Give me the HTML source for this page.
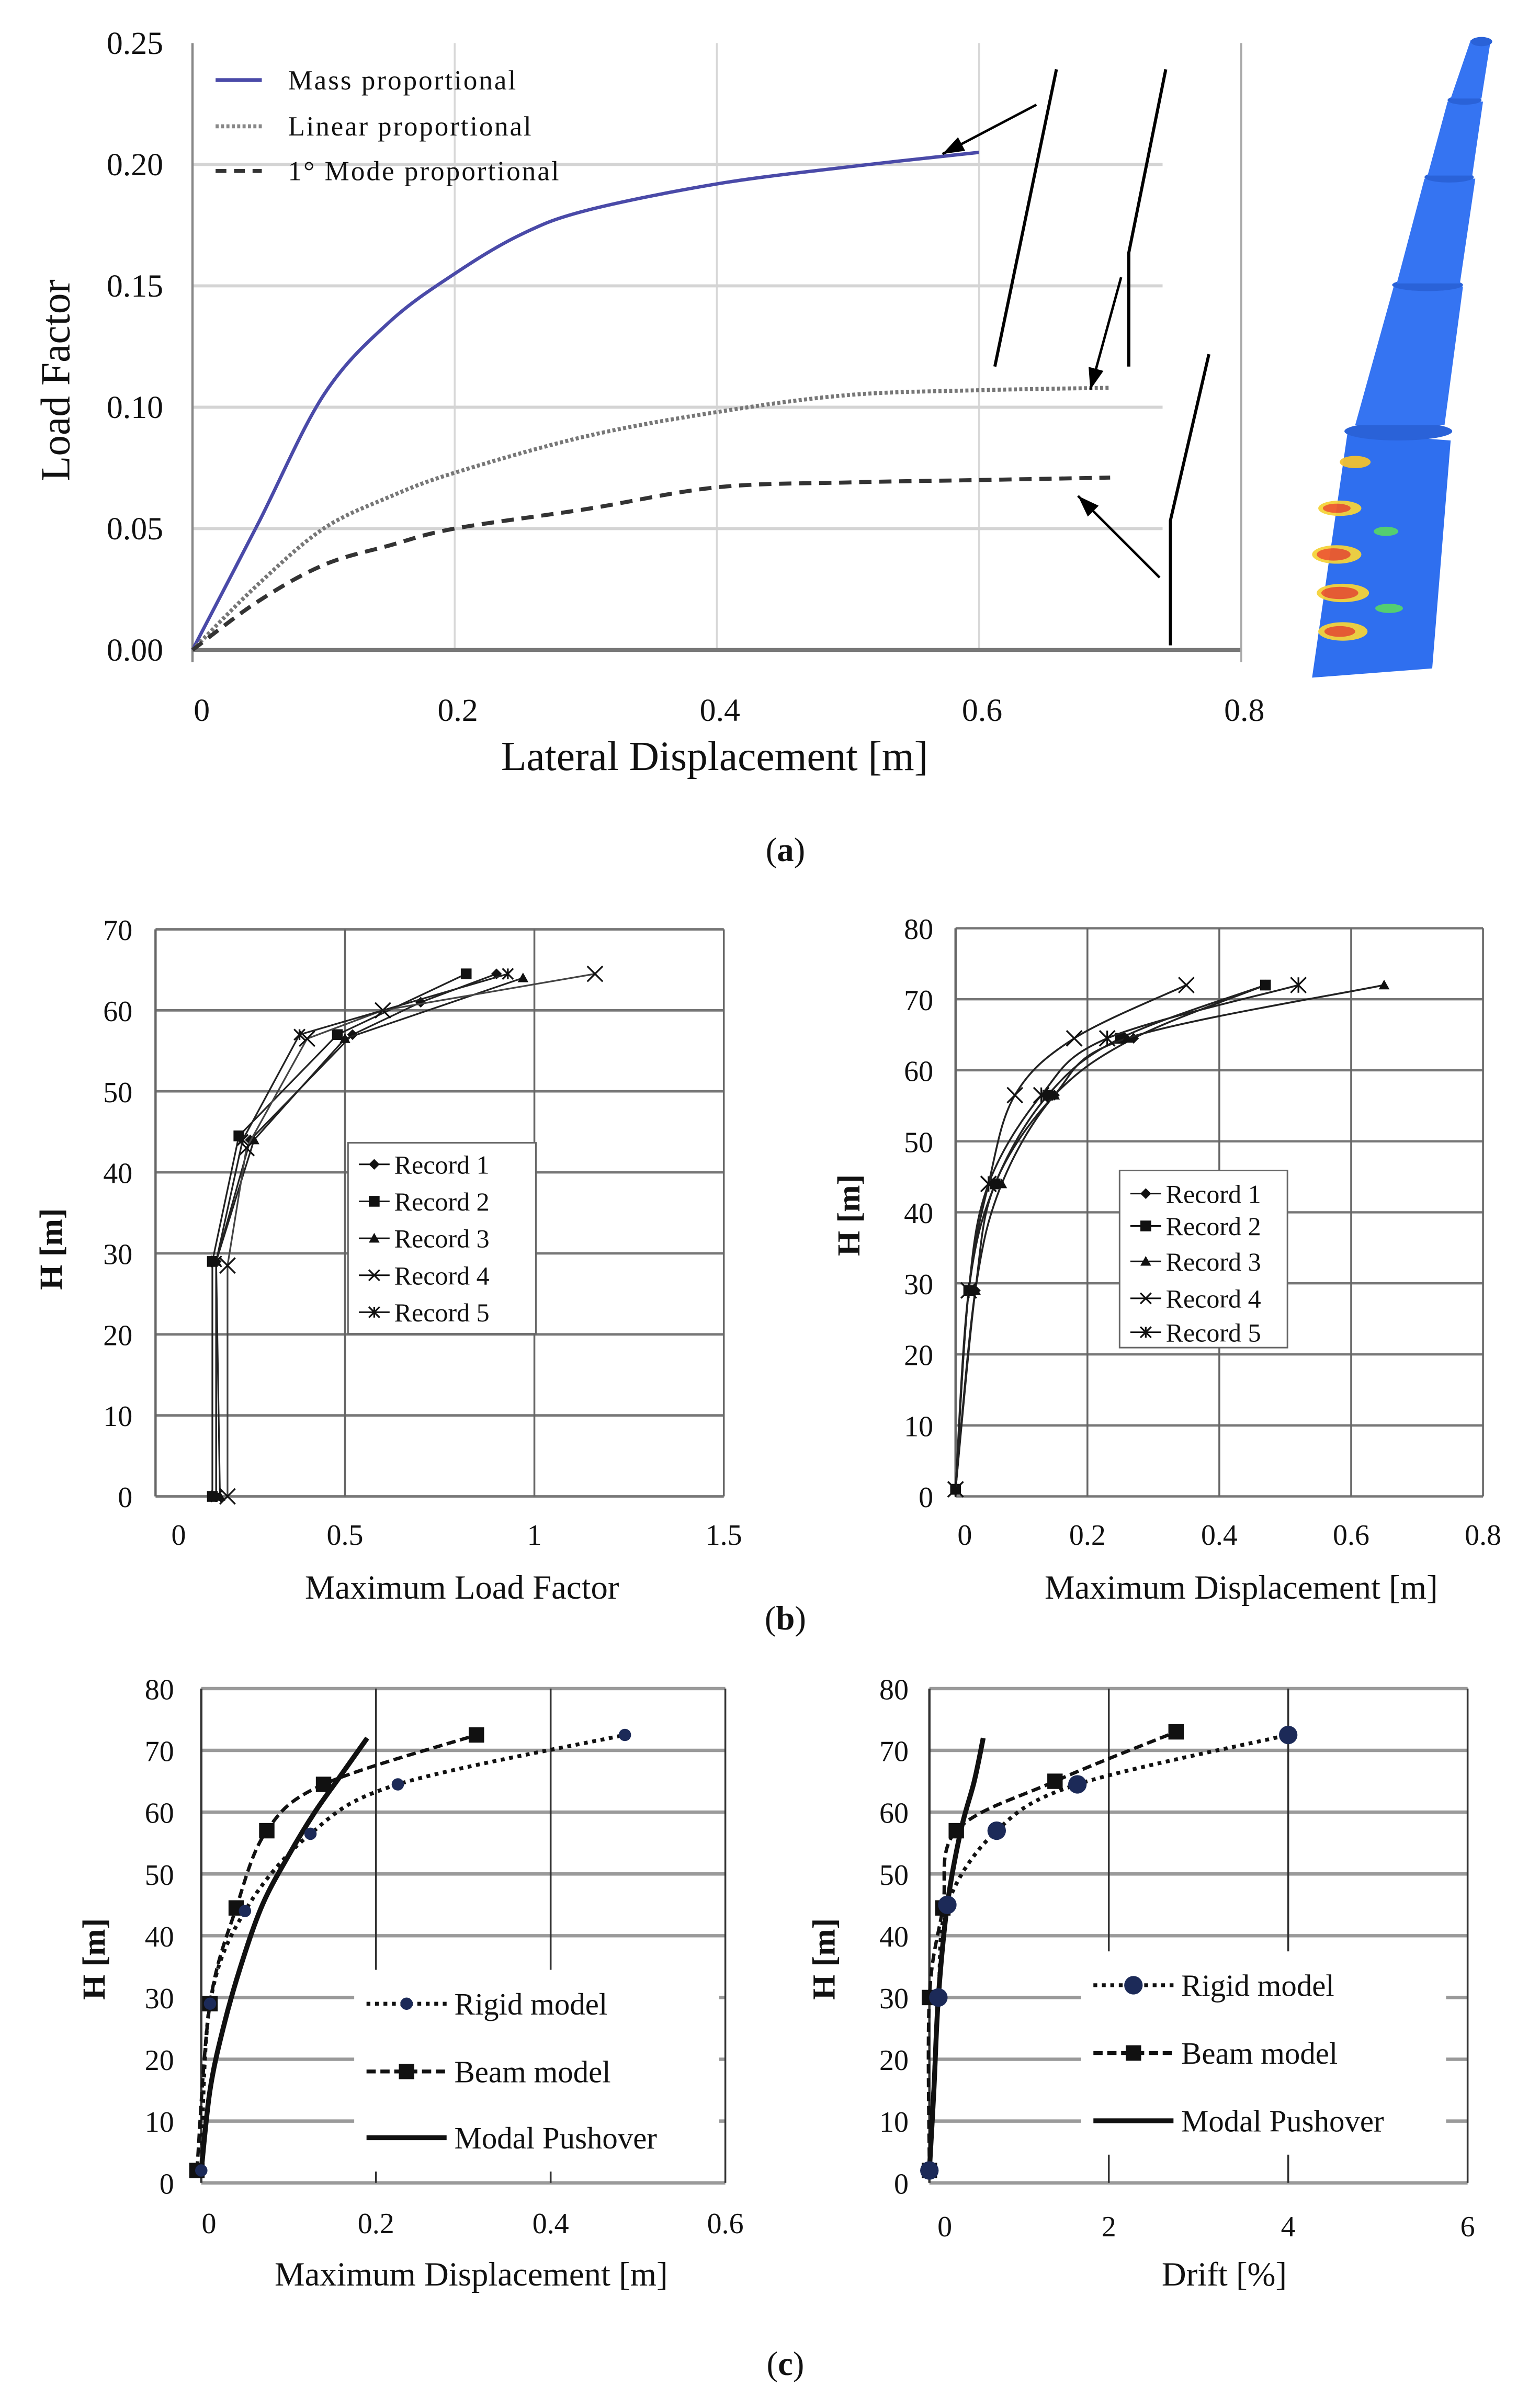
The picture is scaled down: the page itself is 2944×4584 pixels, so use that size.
<!DOCTYPE html>
<html><head><meta charset="utf-8">
<style>
html,body{margin:0;padding:0;background:#fff;}
svg{display:block;}
text{font-family:"Liberation Serif",serif;fill:#111;}
</style></head>
<body>
<svg id="fig" xmlns="http://www.w3.org/2000/svg" width="2944" height="4584" viewBox="0 0 1000 1557" preserveAspectRatio="none">
  <g>
    <polygon points="852,440 930,434 942,286 875,281" fill="#2f6fef"/>
    <ellipse cx="908" cy="280" rx="35" ry="6" fill="#2a62d8"/>
    <polygon points="880,276 938,276 950,186 905,186" fill="#3574f2"/>
    <ellipse cx="927" cy="185" rx="23" ry="4" fill="#2a62d8"/>
    <polygon points="907,184 948,184 958,116 925,116" fill="#3574f2"/>
    <ellipse cx="941" cy="115" rx="16" ry="3.5" fill="#2a62d8"/>
    <polygon points="927,114 956,114 963,66 940,66" fill="#3574f2"/>
    <ellipse cx="951" cy="65" rx="11" ry="3" fill="#2a62d8"/>
    <polygon points="942,64 962,64 968,26 955,26" fill="#3574f2"/>
    <ellipse cx="962" cy="27" rx="7" ry="3" fill="#2a62d8"/>
    <g opacity="0.95">
      <ellipse cx="880" cy="300" rx="10" ry="4" fill="#f2c12e"/>
      <ellipse cx="870" cy="330" rx="14" ry="5" fill="#f5d33a"/>
      <ellipse cx="868" cy="330" rx="9" ry="3" fill="#ee5a2a"/>
      <ellipse cx="868" cy="360" rx="16" ry="6" fill="#f5d33a"/>
      <ellipse cx="866" cy="360" rx="11" ry="4" fill="#ee5a2a"/>
      <ellipse cx="872" cy="385" rx="17" ry="6" fill="#f5d33a"/>
      <ellipse cx="870" cy="385" rx="12" ry="4" fill="#ee5a2a"/>
      <ellipse cx="872" cy="410" rx="16" ry="6" fill="#f5d33a"/>
      <ellipse cx="870" cy="410" rx="10" ry="3.5" fill="#ee5a2a"/>
      <ellipse cx="900" cy="345" rx="8" ry="3" fill="#56d46a"/>
      <ellipse cx="902" cy="395" rx="9" ry="3" fill="#56d46a"/>
    </g>
  </g>
</svg>
<script>
// ---------- Panel (a) data ----------
const aMassX = [0,0.05,0.1,0.15,0.2,0.25,0.3,0.4,0.5,0.6];
const aMassY = [0,0.052,0.105,0.135,0.155,0.171,0.181,0.192,0.199,0.205];
const aLinX = [0,0.05,0.1,0.15,0.2,0.3,0.4,0.5,0.6,0.7];
const aLinY = [0,0.027,0.05,0.063,0.073,0.088,0.098,0.105,0.107,0.108];
const aModeX = [0,0.05,0.1,0.15,0.2,0.3,0.4,0.5,0.6,0.7];
const aModeY = [0,0.02,0.035,0.043,0.05,0.058,0.067,0.069,0.070,0.071];
const aXTicks = [0,0.2,0.4,0.6,0.8];
const aXTickLabels = ["0","0.2","0.4","0.6","0.8"];
const aYTicks = [0,0.05,0.1,0.15,0.2,0.25];
const aYTickLabels = ["0.00","0.05","0.10","0.15","0.20","0.25"];
const aLegend = ["Mass proportional","Linear proportional","1° Mode proportional"];

// ---------- Panel (b) left data ----------
const bLFTicks = [0,0.5,1,1.5];
const bLFTickLabels = ["0","0.5","1","1.5"];
const bHTicksL = [0,10,20,30,40,50,60,70];
const bHTickLabelsL = ["0","10","20","30","40","50","60","70"];
const bR1LF = [0.16,0.16,0.25,0.52,0.70,0.90];
const bR1H = [0,29,44,57,61,64.5];
const bR2LF = [0.15,0.15,0.22,0.48,0.82];
const bR2H = [0,29,44.5,57,64.5];
const bR3LF = [0.17,0.16,0.26,0.50,0.97];
const bR3H = [0,29,44,56.5,64];
const bR4LF = [0.19,0.19,0.24,0.40,0.60,1.16];
const bR4H = [0,28.5,43,56.5,60,64.5];
const bR5LF = [0.16,0.16,0.23,0.38,0.93];
const bR5H = [0,29,44,57,64.5];
const recordNames = ["Record 1","Record 2","Record 3","Record 4","Record 5"];

// ---------- Panel (b) right data ----------
const bDTicks = [0,0.2,0.4,0.6,0.8];
const bDTickLabels = ["0","0.2","0.4","0.6","0.8"];
const bHTicksR = [0,10,20,30,40,50,60,70,80];
const bHTickLabelsR = ["0","10","20","30","40","50","60","70","80"];
const bR1D = [0,0.03,0.06,0.15,0.27,0.47];
const bR2D = [0,0.02,0.06,0.14,0.25,0.47];
const bR3D = [0,0.03,0.07,0.15,0.26,0.65];
const bR4D = [0,0.02,0.05,0.09,0.18,0.35];
const bR5D = [0,0.02,0.05,0.13,0.23,0.52];
const bRH = [1,29,44,56.5,64.5,72];

// ---------- Panel (c) data ----------
const cDTicks = [0,0.2,0.4,0.6];
const cDTickLabels = ["0","0.2","0.4","0.6"];
const cDrTicks = [0,2,4,6];
const cDrTickLabels = ["0","2","4","6"];
const cHTicks = [0,10,20,30,40,50,60,70,80];
const cHTickLabels = ["0","10","20","30","40","50","60","70","80"];
const cRigidD = [0,0.01,0.05,0.125,0.225,0.485];
const cRigidH = [2,29,44,56.5,64.5,72.5];
const cBeamD = [-0.005,0.01,0.04,0.075,0.14,0.315];
const cBeamH = [2,29,44.5,57,64.5,72.5];
const cModalD = [0,0.01,0.025,0.045,0.07,0.1,0.13,0.16,0.19];
const cModalH = [2,15,25,35,45,53,60,66,72];
const cRigidDr = [0,0.1,0.2,0.75,1.65,4.0];
const cRigidDrH = [2,30,45,57,64.5,72.5];
const cBeamDr = [0,0.0,0.15,0.3,1.4,2.75];
const cBeamDrH = [2,30,44.5,57,65,73];
const cModalDr = [0,0.05,0.1,0.2,0.35,0.5,0.6];
const cModalDrH = [2,15,30,45,57,65,72];
const cLegendLabels = ["Rigid model","Beam model","Modal Pushover"];

const NS = "http://www.w3.org/2000/svg";
const svg = document.getElementById("fig");
function mk(tag, attrs, parent){
  const e = document.createElementNS(NS, tag);
  for (const k in attrs) e.setAttribute(k, attrs[k]);
  (parent||svg).appendChild(e);
  return e;
}
function txt(s, x, y, size, anchor, parent, extra){
  const t = mk("text", Object.assign({x:x, y:y, "font-size":size, "text-anchor":anchor||"middle"}, extra||{}), parent);
  t.textContent = s;
  return t;
}
function scale(d0,d1,r0,r1){ return v => r0 + (v-d0)*(r1-r0)/(d1-d0); }
function pathD(xs, ys, sx, sy){
  return xs.map((v,i)=>(i?"L":"M")+sx(v).toFixed(2)+","+sy(ys[i]).toFixed(2)).join(" ");
}
function smoothD(xs, ys, sx, sy){
  const p = xs.map((v,i)=>[sx(v), sy(ys[i])]);
  let d = "M"+p[0][0]+","+p[0][1];
  for (let i=0;i<p.length-1;i++){
    const p0=p[Math.max(0,i-1)], p1=p[i], p2=p[i+1], p3=p[Math.min(p.length-1,i+2)];
    const c1=[p1[0]+(p2[0]-p0[0])/6, p1[1]+(p2[1]-p0[1])/6];
    const c2=[p2[0]-(p3[0]-p1[0])/6, p2[1]-(p3[1]-p1[1])/6];
    d += " C"+c1[0]+","+c1[1]+" "+c2[0]+","+c2[1]+" "+p2[0]+","+p2[1];
  }
  return d;
}
function marker(type, x, y, size, g, color){
  const c = color || "#111";
  let e;
  if (type==="diamond") e = mk("polygon",{points:`${x},${y-size} ${x+size},${y} ${x},${y+size} ${x-size},${y}`, fill:c}, g);
  else if (type==="square") e = mk("rect",{x:x-size,y:y-size,width:2*size,height:2*size,fill:c}, g);
  else if (type==="triangle") e = mk("polygon",{points:`${x},${y-size} ${x+size},${y+size*0.8} ${x-size},${y+size*0.8}`, fill:c}, g);
  else if (type==="cross") e = mk("path",{d:`M${x-size},${y-size}L${x+size},${y+size}M${x-size},${y+size}L${x+size},${y-size}`, stroke:c, "stroke-width":1.1, fill:"none"}, g);
  else if (type==="star") e = mk("path",{d:`M${x-size},${y-size}L${x+size},${y+size}M${x-size},${y+size}L${x+size},${y-size}M${x},${y-size}L${x},${y+size}`, stroke:c, "stroke-width":1.1, fill:"none"}, g);
  else e = mk("circle",{cx:x,cy:y,r:size,fill:c}, g);
  return e;
}

// ================= PANEL (a) =================
(function(){
  const sx = scale(0,0.8,125,806), sy = scale(0,0.25,422,28);
  const g = mk("g",{});
  
  
  aXTicks.forEach((v,i)=>{
    if (v>0) {
      const l = mk("line",{x1:sx(v),x2:sx(v),y1:sy(0.25),y2:sy(0),stroke:i===4?"#bbb":"#d8d8d8","stroke-width":1.2},g);
      
      
    }
    const t = txt(aXTickLabels[i], sx(v)+(v===0?6:2), 468, 21, "middle", g);
    
    
  });
  aYTicks.forEach((v,i)=>{
    if (v>0 && v<0.25){
      const l = mk("line",{x1:sx(0),x2:sx(0.74),y1:sy(v),y2:sy(v),stroke:"#d4d4d4","stroke-width":2},g);
      
      
    }
    const t = txt(aYTickLabels[i], 106, sy(v)+7, 21, "end", g);
    
    
  });
  const ax = mk("line",{x1:sx(0),x2:sx(0),y1:sy(0.25),y2:sy(0)+8,stroke:"#888","stroke-width":1.5},g);
  
  
  const bx = mk("line",{x1:sx(0),x2:sx(0.8),y1:sy(0),y2:sy(0),stroke:"#777","stroke-width":2.5},g);
  
  
  const rb = mk("line",{x1:sx(0.8),x2:sx(0.8),y1:sy(0.25),y2:sy(0)+8,stroke:"#aaa","stroke-width":1.2},g);
  
  
  const m = mk("path",{d:smoothD(aMassX,aMassY,sx,sy),fill:"none",stroke:"#4a4aa8","stroke-width":2.2},g);
  
  
  const l = mk("path",{d:smoothD(aLinX,aLinY,sx,sy),fill:"none",stroke:"#777","stroke-width":2.6,"stroke-dasharray":"2 1.5"},g);
  
  
  const md = mk("path",{d:smoothD(aModeX,aModeY,sx,sy),fill:"none",stroke:"#333","stroke-width":2.6,"stroke-dasharray":"8 5"},g);
  
  
  const lg = mk("g",{},g);
  
  
  const styles = [{stroke:"#4a4aa8","stroke-width":2.5},{stroke:"#888","stroke-width":2.6,"stroke-dasharray":"2 1.5"},{stroke:"#333","stroke-width":2.6,"stroke-dasharray":"7 5"}];
  [52,82,111].forEach((y,i)=>{
    const s = mk("line",Object.assign({x1:140,x2:170,y1:y,y2:y},styles[i]),lg);
    
    
    const t = txt(aLegend[i],187,y+6,18,"start",lg,{textLength: i===2?176:(i===0?148:158)});
    
    
  });
  const ann = mk("g",{stroke:"#000","stroke-width":2,fill:"none"},g);
  
  
  mk("line",{x1:646,y1:238,x2:686,y2:45},ann);
  mk("polyline",{points:"733,238 733,164 757,45"},ann);
  mk("polyline",{points:"760,419 760,338 785,230"},ann);
  function arrow(x1,y1,x2,y2,name){
    const a = mk("line",{x1:x1,y1:y1,x2:x2,y2:y2,stroke:"#000","stroke-width":1.6},g);
    
    
    const ang = Math.atan2(y2-y1,x2-x1), L=14, W=5;
    const bx_=x2-L*Math.cos(ang), by_=y2-L*Math.sin(ang);
    const h = mk("polygon",{points:`${x2},${y2} ${bx_+W*Math.sin(ang)},${by_-W*Math.cos(ang)} ${bx_-W*Math.sin(ang)},${by_+W*Math.cos(ang)}`,fill:"#000"},g);
    
    
  }
  arrow(673,68,612,100,'arrow-mass');
  arrow(728,180,708,253,'arrow-linear');
  arrow(753,375,700,322,'arrow-mode');
  const yt = txt("Load Factor",0,0,27,"middle",g,{transform:"translate(45,247) rotate(-90)"});
  
  
  const xt = txt("Lateral Displacement [m]",464,500,27,"middle",g);
  
  
  const cap = txt("",510,559,22,"middle",g);
  cap.innerHTML = '(<tspan font-weight="bold">a</tspan>)';
  
  
})();

function hchart(cfg){
  const g = mk("g",{});
  const sx = scale(cfg.xd[0],cfg.xd[1],cfg.xr[0],cfg.xr[1]);
  const sy = scale(cfg.yd[0],cfg.yd[1],cfg.yr[0],cfg.yr[1]);
  cfg.yTicks.forEach((v,i)=>{
    const l = mk("line",{x1:cfg.xr[0],x2:cfg.xr[1],y1:sy(v),y2:sy(v),stroke:cfg.gridColor,"stroke-width":cfg.gridW},g);
    
    
    const t = txt(cfg.yLabels[i], cfg.yLabelX, sy(v)+7, cfg.fs, "end", g);
    
    
  });
  cfg.xTicks.forEach((v,i)=>{
    const l = mk("line",{x1:sx(v),x2:sx(v),y1:cfg.yr[1],y2:cfg.yr[0],stroke:i===0?cfg.axisColor:cfg.vgridColor,"stroke-width":i===0?1.5:1.2},g);
    
    
    const t = txt(cfg.xLabels[i], sx(v)+(i===0?cfg.zeroOff:0), cfg.xLabelY, cfg.fs, "middle", g);
    
    
  });
  const yt = txt("H [m]",0,0,cfg.fs+2,"middle",g,{transform:`translate(${cfg.hx},${cfg.hy}) rotate(-90)`, "font-weight":"bold"});
  
  
  const xt = txt(cfg.xTitle,cfg.xtx,cfg.xty,cfg.fs+3,"middle",g);
  
  
  return {g, sx, sy};
}

const recMarkers = ["diamond","square","triangle","cross","star"];
function recordLegend(parent, x0,y0,x1,y1, ys){
  const lg = mk("g",{},parent);
  
  
  const r = mk("rect",{x:x0,y:y0,width:x1-x0,height:y1-y0,fill:"#fff",stroke:"#666","stroke-width":1},lg);
  
  
  ys.forEach((y,i)=>{
    const s = mk("line",{x1:x0+7,x2:x0+27,y1:y,y2:y,stroke:"#111","stroke-width":1},lg);
    
    
    marker(recMarkers[i],x0+17,y,3.5,lg);
    const t = txt(recordNames[i],x0+30,y+6,17,"start",lg);
    
    
  });
}

// ================= PANEL (b) left =================
(function(){
  const c = hchart({xd:[0,1.5],xr:[101,470],yd:[0,70],yr:[971.6,603.4],xTicks:bLFTicks,xLabels:bLFTickLabels,yTicks:bHTicksL,yLabels:bHTickLabelsL,
    gridColor:"#777",gridW:1.6,vgridColor:"#666",axisColor:"#666",yLabelX:86,xLabelY:1003,fs:19,zeroOff:15,hx:40,hy:811,xTitle:"Maximum Load Factor",xtx:300,xty:1038});
  
  
  const sets = [[bR1LF,bR1H],[bR2LF,bR2H],[bR3LF,bR3H],[bR4LF,bR4H],[bR5LF,bR5H]];
  sets.forEach((s,k)=>{
    const p = mk("path",{d:pathD(s[0],s[1],c.sx,c.sy),fill:"none",stroke:k===3?"#444":"#222","stroke-width":1.1},c.g);
    
    
    s[0].forEach((v,i)=>{
      const m = marker(recMarkers[k],c.sx(v),c.sy(s[1][i]),k===3?5:3.5,c.g);
      
      
    });
  });
  recordLegend(c.g,226,742,348,866,[756,780,804,828,852]);
})();

// ================= PANEL (b) right =================
(function(){
  const c = hchart({xd:[0,0.8],xr:[620.5,963],yd:[0,80],yr:[971.6,602.7],xTicks:bDTicks,xLabels:bDTickLabels,yTicks:bHTicksR,yLabels:bHTickLabelsR,
    gridColor:"#777",gridW:1.5,vgridColor:"#666",axisColor:"#666",yLabelX:606,xLabelY:1003,fs:19,zeroOff:6,hx:558,hy:789,xTitle:"Maximum Displacement [m]",xtx:806,xty:1038});
  
  
  const sets = [bR1D,bR2D,bR3D,bR4D,bR5D];
  sets.forEach((s,k)=>{
    const p = mk("path",{d:smoothD(s,bRH,c.sx,c.sy),fill:"none",stroke:"#222","stroke-width":1.2},c.g);
    
    
    s.forEach((v,i)=>{
      const m = marker(recMarkers[k],c.sx(v),c.sy(bRH[i]),k>=3?5:3.5,c.g);
      
      
    });
  });
  recordLegend(c.g,727,760,836,875,[775,796,819,843,865]);
  const cap = txt("",510,1058,22,"middle");
  cap.innerHTML = '(<tspan font-weight="bold">b</tspan>)';
  
  
})();

// ================= PANEL (c) =================
function drawModelLegend(parent, x0, x1, tx, ys, big){
  const lg = mk("g",{},parent);
  
  
  const bg = mk("rect",{x:x0-8,y:ys[0]-22,width:tx-x0+180,height:ys[2]-ys[0]+44,fill:"#fff"},lg);
  
  
  const r = mk("line",{x1:x0,x2:x1,y1:ys[0],y2:ys[0],stroke:"#111","stroke-width":2.5,"stroke-dasharray":"2.5 3"},lg);
  
  
  marker("circle",(x0+x1)/2,ys[0],big?6:4,lg,"#1c2a58");
  const b = mk("line",{x1:x0,x2:x1,y1:ys[1],y2:ys[1],stroke:"#111","stroke-width":2.5,"stroke-dasharray":"6 3"},lg);
  
  
  marker("square",(x0+x1)/2,ys[1],5,lg);
  const mo = mk("line",{x1:x0,x2:x1,y1:ys[2],y2:ys[2],stroke:"#111","stroke-width":3.2},lg);
  
  
  ys.forEach((y,i)=>{
    const t = txt(cLegendLabels[i],tx,y+7,20,"start",lg);
    
    
  });
}
function cSeries(c, rx, ry, bx, by, mx, my, big){
  const rp = mk("path",{d:smoothD(rx,ry,c.sx,c.sy),fill:"none",stroke:"#111","stroke-width":2.5,"stroke-dasharray":"2.5 3"},c.g);
  
  
  const bp = mk("path",{d:smoothD(bx,by,c.sx,c.sy),fill:"none",stroke:"#111","stroke-width":2.2,"stroke-dasharray":"6 3"},c.g);
  
  
  const mp = mk("path",{d:smoothD(mx,my,c.sx,c.sy),fill:"none",stroke:"#111","stroke-width":3.2},c.g);
  
  
  bx.forEach((v,i)=>{
    const m = marker("square",c.sx(v),c.sy(by[i]),5,c.g);
    
    
  });
  rx.forEach((v,i)=>{
    const m = marker("circle",c.sx(v),c.sy(ry[i]),big?6:4,c.g,"#1c2a58");
    
    
  });
}
(function(){
  const c = hchart({xd:[0,0.6],xr:[130.7,471],yd:[0,80],yr:[1417.3,1096.4],xTicks:cDTicks,xLabels:cDTickLabels,yTicks:cHTicks,yLabels:cHTickLabels,
    gridColor:"#9a9a9a",gridW:2.2,vgridColor:"#333",axisColor:"#333",yLabelX:113,xLabelY:1450,fs:19,zeroOff:5,hx:68,hy:1272,xTitle:"Maximum Displacement [m]",xtx:306,xty:1484});
  
  
  drawModelLegend(c.g,238,290,295,[1301,1345,1388],false);
  cSeries(c,cRigidD,cRigidH,cBeamD,cBeamH,cModalD,cModalH,false);
})();
(function(){
  const c = hchart({xd:[0,6],xr:[603.5,953],yd:[0,80],yr:[1417.3,1096.4],xTicks:cDrTicks,xLabels:cDrTickLabels,yTicks:cHTicks,yLabels:cHTickLabels,
    gridColor:"#9a9a9a",gridW:2.2,vgridColor:"#333",axisColor:"#333",yLabelX:590,xLabelY:1452,fs:19,zeroOff:10,hx:542,hy:1272,xTitle:"Drift [%]",xtx:795,xty:1484});
  
  
  drawModelLegend(c.g,710,762,767,[1289,1333,1377],true);
  cSeries(c,cRigidDr,cRigidDrH,cBeamDr,cBeamDrH,cModalDr,cModalDrH,true);
  const cap = txt("",510,1542,22,"middle");
  cap.innerHTML = '(<tspan font-weight="bold">c</tspan>)';
  
  
})();
</script>
</body></html>
